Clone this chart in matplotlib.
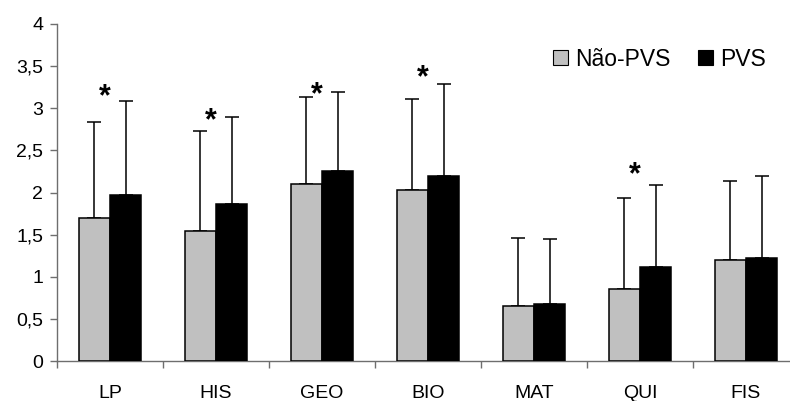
import numpy as np
import matplotlib
matplotlib.use("Agg")
import matplotlib.pyplot as plt
from matplotlib.patches import Patch

plt.rcParams['font.family'] = ['Liberation Sans', 'DejaVu Sans']

# Mean scores per subject and their standard deviations
subjects = ["LP", "HIS", "GEO", "BIO", "MAT", "QUI", "FIS"]
nao_pvs_mean = [1.70, 1.54, 2.10, 2.03, 0.65, 0.85, 1.20]
nao_pvs_sd = [1.14, 1.19, 1.03, 1.08, 0.81, 1.08, 0.94]
pvs_mean = [1.97, 1.86, 2.26, 2.19, 0.68, 1.12, 1.22]
pvs_sd = [1.12, 1.04, 0.93, 1.10, 0.77, 0.97, 0.97]
series_labels = ["Não-PVS", "PVS"]

# Subjects with a significant difference, and where the marker sits
sig_subjects = ["LP", "HIS", "GEO", "BIO", "QUI"]
sig_marker_y = [3.13, 2.85, 3.15, 3.36, 2.20]

y_ticks = [0, 0.5, 1, 1.5, 2, 2.5, 3, 3.5, 4]
y_tick_labels = ["0", "0,5", "1", "1,5", "2", "2,5", "3", "3,5", "4"]

W, H = 790, 401
fig = plt.figure(figsize=(W / 100, H / 100), dpi=100)
ax = fig.add_axes([57 / W, 1 - 361 / H, 742 / W, (361 - 24) / H])

x = np.arange(len(subjects)) + 0.5
bw = 0.297
axis_gray = "#6e6e6e"

ax.bar(x - bw / 2, nao_pvs_mean, bw, color="#c0c0c0", edgecolor="black",
       linewidth=1.1, zorder=3)
ax.bar(x + bw / 2, pvs_mean, bw, color="black", edgecolor="black",
       linewidth=1.1, zorder=3)

for xs, m, s in [(x - bw / 2, nao_pvs_mean, nao_pvs_sd),
                 (x + bw / 2, pvs_mean, pvs_sd)]:
    ax.errorbar(xs, m, yerr=[np.zeros(len(s)), s], fmt="none",
                ecolor="black", elinewidth=1.1, capsize=4.7,
                capthick=1.1, zorder=2)

for name, yy in zip(sig_subjects, sig_marker_y):
    i = subjects.index(name)
    ax.text(x[i] - 0.05, yy, "*", ha="center", va="center",
            fontsize=22, fontweight="bold", color="black", zorder=4)

ax.set_xlim(0, len(subjects))
ax.set_ylim(0, 4)
ax.set_yticks(y_ticks)
ax.set_yticklabels(y_tick_labels)
ax.set_xticks(np.arange(len(subjects) + 1))
ax.set_xticklabels([])
ax.set_xticks(x, minor=True)
ax.set_xticklabels(subjects, minor=True)
ax.tick_params(axis="x", which="minor", length=0, pad=17, labelsize=14)
ax.tick_params(axis="x", which="major", length=5, width=1, color=axis_gray,
               direction="out")
ax.tick_params(axis="y", length=5, width=1, color=axis_gray, pad=5,
               labelsize=14)

for side in ["top", "right"]:
    ax.spines[side].set_visible(False)
for side in ["left", "bottom"]:
    ax.spines[side].set_color(axis_gray)
    ax.spines[side].set_linewidth(1.0)

handles = [Patch(facecolor="#c0c0c0", edgecolor="black", linewidth=0.8),
           Patch(facecolor="black", edgecolor="black", linewidth=0.8)]
fig.legend(handles, series_labels, loc="center left",
           bbox_to_anchor=(553 / W, 1 - 59 / H), ncol=2, frameon=False,
           fontsize=16.5, handlelength=0.66, handleheight=0.66,
           handletextpad=0.3, columnspacing=1.2, borderpad=0,
           borderaxespad=0)

fig.savefig("out.png", dpi=100)
